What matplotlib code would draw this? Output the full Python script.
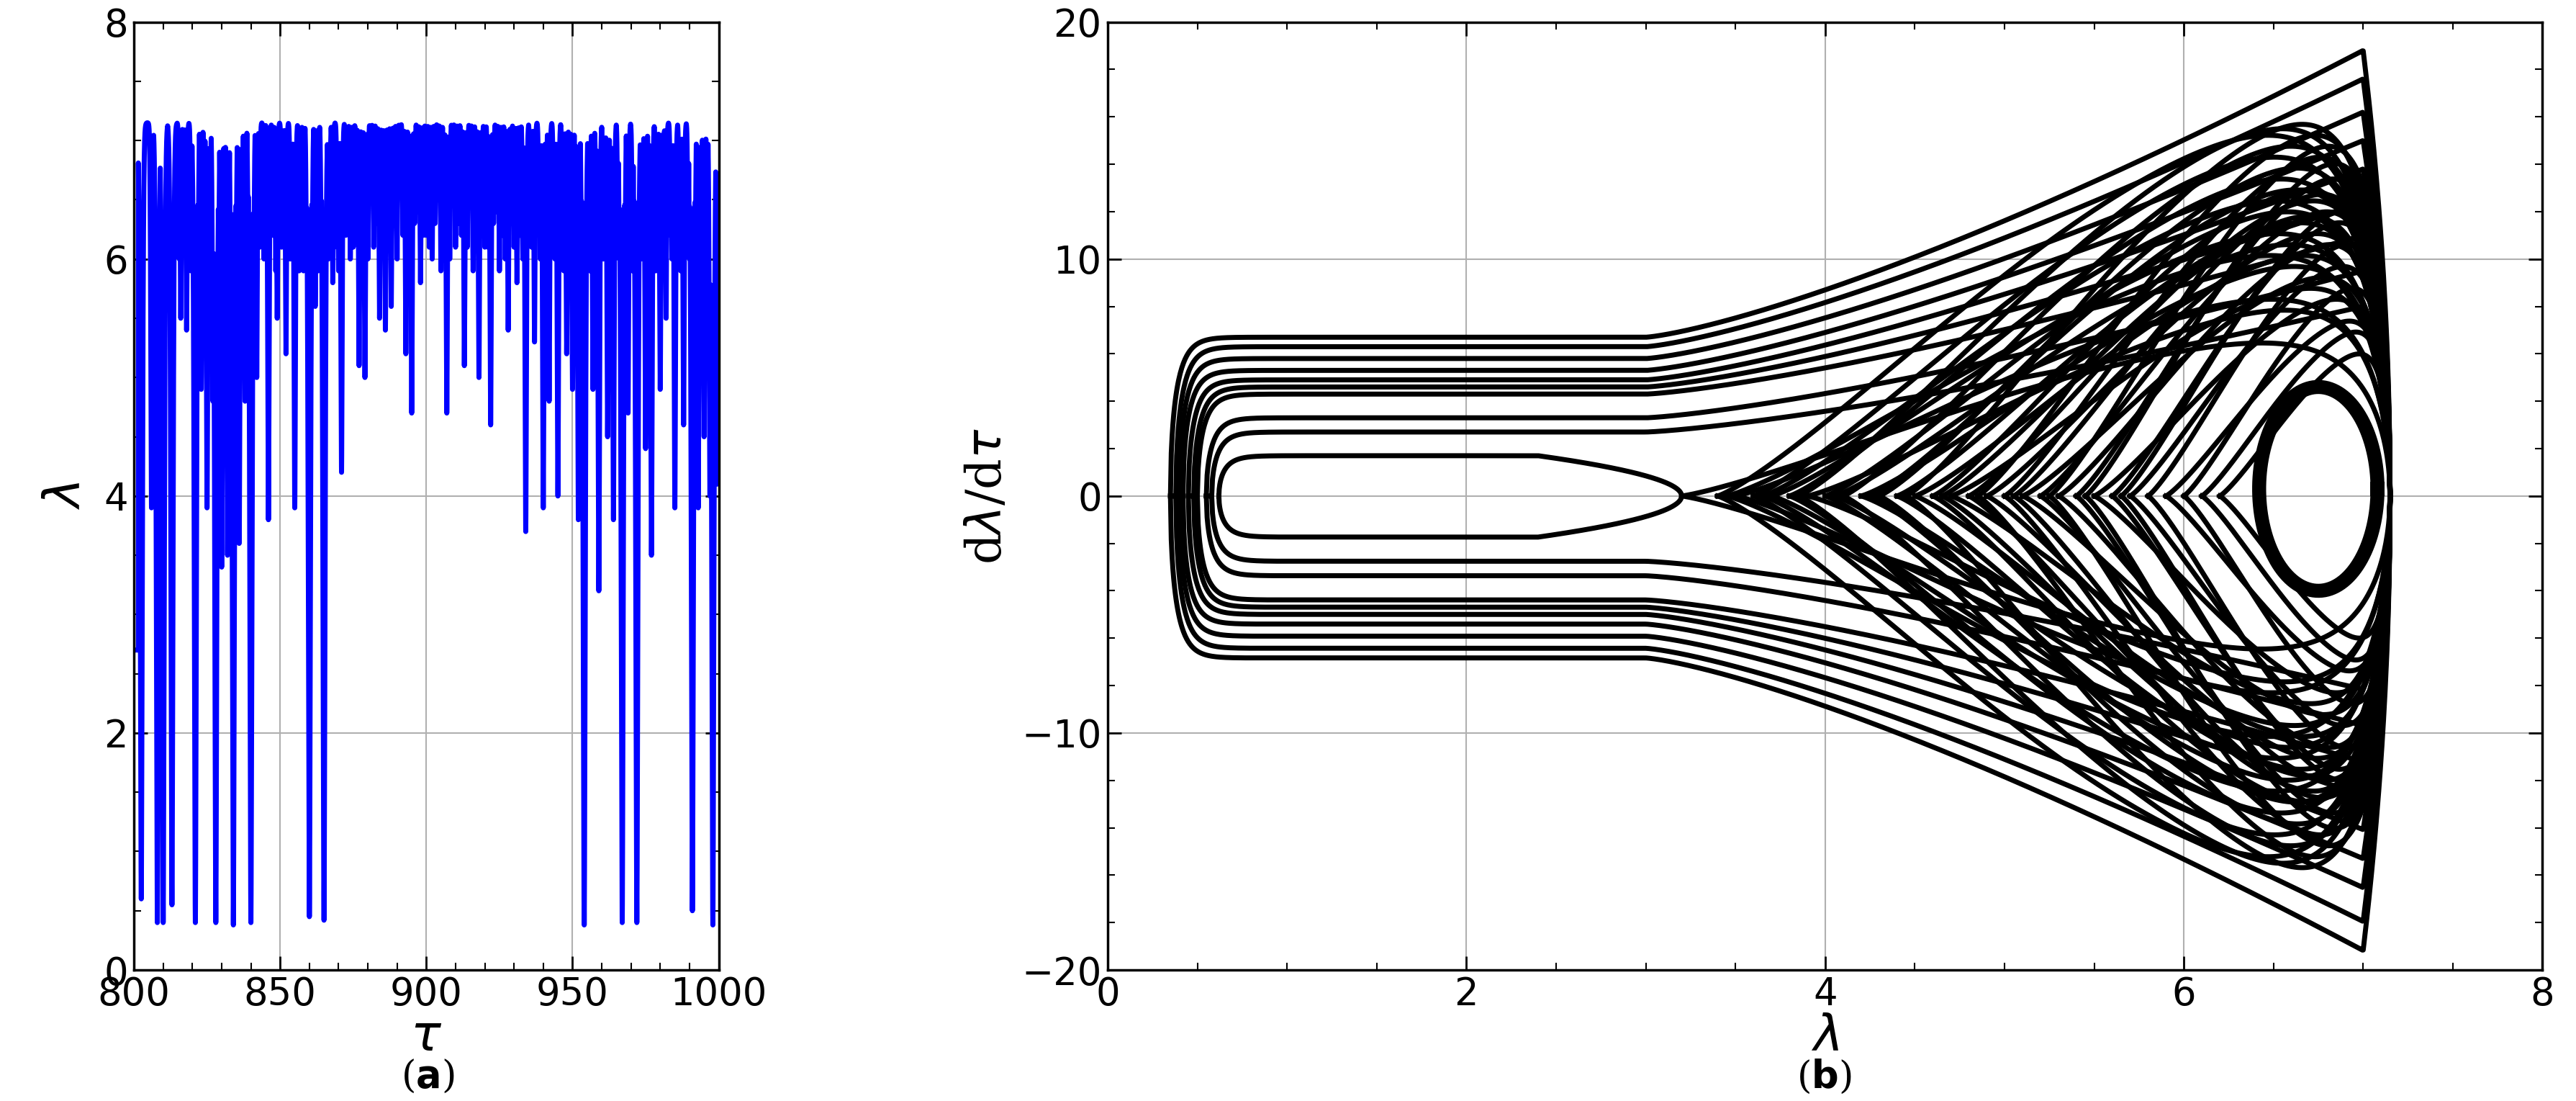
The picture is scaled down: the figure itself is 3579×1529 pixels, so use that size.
import numpy as np
import matplotlib
matplotlib.use("Agg")
import matplotlib.pyplot as plt

# ---------------- data: panel (a) dips of lambda(tau) ----------------
peak_level = 7.15
dip_tau = [802.5, 806, 808, 810, 813, 816, 818, 821, 823, 825, 827, 828, 830, 832, 834, 836, 838, 840,
           842, 846, 849, 852, 855, 858, 860, 862, 865, 868, 871, 874, 876, 877, 879, 881, 882, 884, 886,
           888, 890, 891, 893, 895, 897, 898, 900, 902, 904, 905, 907, 909, 910, 913, 915, 916, 918, 920,
           922, 924, 925, 928, 931, 934, 937, 940, 942, 945, 948, 950, 952, 954, 957, 959, 962, 964, 967,
           969, 972, 975, 977, 980, 982, 985, 988, 991, 993, 995, 997, 998, 999.5]
dip_min = [0.6, 3.9, 0.4, 0.4, 0.55, 5.5, 5.4, 0.4, 4.9, 3.9, 4.8, 0.4, 3.4, 3.5, 0.38, 3.6, 4.8, 0.4,
           5.0, 3.8, 5.5, 5.2, 3.9, 5.9, 0.45, 5.6, 0.42, 5.8, 4.2, 6.0, 6.4, 5.1, 5.0, 6.5, 6.1, 5.5, 5.4,
           5.6, 6.0, 6.6, 5.2, 4.7, 6.4, 5.8, 6.2, 6.0, 6.5, 5.9, 4.7, 6.6, 6.1, 5.1, 6.5, 5.9, 5.0, 6.1,
           4.6, 6.4, 5.9, 5.4, 5.8, 3.7, 5.3, 3.9, 4.8, 4.0, 5.2, 4.9, 3.8, 0.38, 4.9, 3.2, 4.5, 3.8, 0.4,
           4.7, 0.4, 4.4, 3.5, 4.9, 5.5, 3.9, 4.6, 0.5, 3.9, 4.5, 4.0, 0.38, 4.1]
# fast shallow oscillations filling the band below the top
shallow_tau = [815.5, 817, 819.5, 822, 824, 826, 829, 831, 833, 835, 837, 839, 841, 843, 844.5, 847.5,
               848.5, 850.5, 851, 853.5, 854, 856.5, 857, 859, 861, 863, 864, 866.5, 867, 869.5, 870,
               872.5, 873, 875, 878, 880, 883, 885, 887, 889, 892, 894, 896, 899, 901, 903, 906, 908,
               911, 912, 914, 917, 919, 921, 923, 926, 927, 929, 930, 932, 933, 935.5, 936, 938.5, 939,
               941, 943.5, 944, 946.5, 947, 949, 951, 953, 955.5, 956, 958, 960.5, 961, 963, 965.5, 966,
               968, 970.5, 971, 973.5, 974, 976, 978.5, 979, 981, 983.5, 984, 986.5, 987, 989.5, 990,
               992, 994, 996]
shallow_min = [6.0, 6.2, 5.9, 6.1, 6.3, 5.8, 6.0, 6.2, 5.9, 6.1, 6.0, 6.3, 5.9, 6.1, 6.0, 6.2, 5.9, 6.1,
               6.3, 6.0, 6.1, 5.9, 6.2, 6.0, 6.1, 5.9, 6.2, 6.0, 6.3, 6.1, 5.9, 6.2, 6.3, 6.1, 6.2, 6.0,
               6.3, 6.1, 6.2, 6.3, 6.2, 6.1, 6.3, 6.2, 6.1, 6.3, 6.2, 6.0, 6.3, 6.2, 6.1, 6.3, 6.2, 6.1,
               6.3, 6.2, 6.0, 6.3, 6.1, 6.2, 6.0, 6.3, 6.1, 6.2, 6.0, 6.1, 6.3, 6.0, 6.2, 5.9, 6.1, 6.0,
               6.2, 6.1, 5.9, 6.2, 6.0, 6.1, 5.9, 6.2, 6.0, 6.1, 5.9, 6.2, 6.0, 6.1, 6.3, 5.9, 6.1, 6.0,
               6.2, 6.0, 6.1, 5.9, 6.2, 6.0, 6.1, 5.9, 6.0]

# ---------------- data: panel (b) phase orbits ----------------
outer_lmin = [0.35, 0.38, 0.40, 0.42, 0.45, 0.48, 0.50, 0.55, 0.58, 0.62]
outer_vl   = [6.7, 6.3, 5.8, 5.3, 4.9, 4.6, 4.3, 3.3, 2.7, 1.7]
outer_vr   = [18.8, 17.6, 16.2, 15.0, 13.8, 12.4, 11.0, 9.5, 8.0, 0.0]
fan_lmin = [3.2, 3.4, 3.5, 3.6, 3.7, 3.8, 3.9, 4.0, 4.1, 4.2, 4.3, 4.4, 4.5, 4.6, 4.7, 4.8, 4.9, 5.0,
            5.1, 5.2, 5.3, 5.4, 5.5, 5.6, 5.7, 5.8, 5.9, 6.0, 6.1, 6.2, 3.45, 3.65, 3.85, 4.05, 4.25,
            4.45, 4.65, 4.85, 5.05, 5.25, 5.45, 5.65]
fan_vp   = [7.0, 16.5, 9.0, 15.5, 12.0, 14.5, 8.5, 13.0, 16.0, 10.5, 15.0, 12.5, 11.0, 14.0, 9.5, 13.5,
            12.0, 15.5, 10.0, 13.0, 11.5, 14.5, 9.0, 12.5, 10.5, 11.5, 8.0, 9.5, 7.5, 6.5, 11.0, 13.5,
            16.8, 11.5, 14.0, 17.0, 12.8, 16.5, 13.8, 16.0, 15.2, 13.0]

lam_right = 7.15

fig = plt.figure(figsize=(35.79, 15.29), dpi=100)
plt.rcParams['font.family'] = ['DejaVu Sans']

def style(ax):
    ax.grid(True, color='#b0b0b0', lw=1.5)
    ax.tick_params(direction='in', top=True, right=True, length=14, width=2, labelsize=38, pad=6)
    ax.tick_params(which='minor', direction='in', top=True, right=True, length=7, width=1.5)
    for s in ax.spines.values():
        s.set_linewidth(2.5)

# panel (a)
ax1 = fig.add_axes([0.052, 0.119, 0.227, 0.861])
tau = np.linspace(800, 1000, 40001)
lam = np.full_like(tau, peak_level)
for t, m in list(zip(dip_tau, dip_min)) + list(zip(shallow_tau, shallow_min)):
    w = 0.18 + 0.05 * (peak_level - m)
    prof = peak_level - (peak_level - m) * np.exp(-np.abs((tau - t) / w) ** 1.6)
    lam = np.minimum(lam, prof)
lam[tau < 801.5] = np.minimum(lam[tau < 801.5], 2.7)
ax1.plot(tau, lam, color='#0000ff', lw=5)
ax1.set_xlim(800, 1000); ax1.set_ylim(0, 8)
ax1.set_xticks([800, 850, 900, 950, 1000]); ax1.set_yticks([0, 2, 4, 6, 8])
ax1.set_xticks(np.arange(800, 1001, 10), minor=True)
ax1.set_yticks(np.arange(0, 8.01, 0.5), minor=True)
style(ax1)
ax1.set_xlabel(r'$\tau$', fontsize=50)
ax1.xaxis.set_label_coords(0.5, -0.045)
ax1.set_ylabel(r'$\lambda$', fontsize=50, labelpad=14)

# panel (b)
ax2 = fig.add_axes([0.430, 0.119, 0.557, 0.861])
for lm, vl, vr in zip(outer_lmin, outer_vl, outer_vr):
    if vr > 0:
        x = np.linspace(lm, lam_right, 1500)
        base = vl * np.sqrt(1 - np.exp(-(x - lm) / 0.06))
        grow = np.clip((x - 3.0) / 4.0, 0, 1)
        v = base + (vr - vl) * grow ** 1.3
        v = v * np.sqrt(np.clip((lam_right - x) / 0.15, 0, 1))
    else:
        x = np.linspace(lm, 3.2, 1500)
        base = vl * np.sqrt(1 - np.exp(-(x - lm) / 0.06))
        v = base * np.sqrt(np.clip((3.2 - x) / 0.8, 0, 1))
    ax2.plot(np.r_[x, x[::-1]], np.r_[v, -v[::-1] * 1.02], color='black', lw=5)
for lm, vp in zip(fan_lmin, fan_vp):
    x = np.linspace(lm, lam_right, 1000)
    s = (x - lm) / (lam_right - lm)
    v = vp * np.sin(np.pi / 2 * s) ** 1.2 * np.sqrt(np.clip(1 - s ** 14, 0, 1))
    ax2.plot(np.r_[x, x[::-1]], np.r_[v, -v[::-1]], color='black', lw=5)
th = np.linspace(0, 2 * np.pi, 400)
ax2.plot(6.75 + 0.33 * np.cos(th), 0.3 + 4.3 * np.sin(th), color='black', lw=14)
ax2.set_xlim(0, 8); ax2.set_ylim(-20, 20)
ax2.set_xticks([0, 2, 4, 6, 8]); ax2.set_yticks([-20, -10, 0, 10, 20])
ax2.set_yticklabels(['\u221220', '\u221210', '0', '10', '20'])
ax2.set_xticks(np.arange(0, 8.01, 0.5), minor=True)
ax2.set_yticks(np.arange(-20, 20.1, 2), minor=True)
style(ax2)
ax2.set_xlabel(r'$\lambda$', fontsize=50)
ax2.xaxis.set_label_coords(0.5, -0.045)
ax2.set_ylabel(r'd$\lambda$/d$\tau$', fontsize=48, family='DejaVu Serif', labelpad=10)

fig.text(0.166, 0.022, r'($\mathbf{a}$)', fontsize=38, ha='center', va='center', family='DejaVu Serif')
fig.text(0.708, 0.022, r'($\mathbf{b}$)', fontsize=38, ha='center', va='center', family='DejaVu Serif')

fig.savefig('out.png', dpi=100)
